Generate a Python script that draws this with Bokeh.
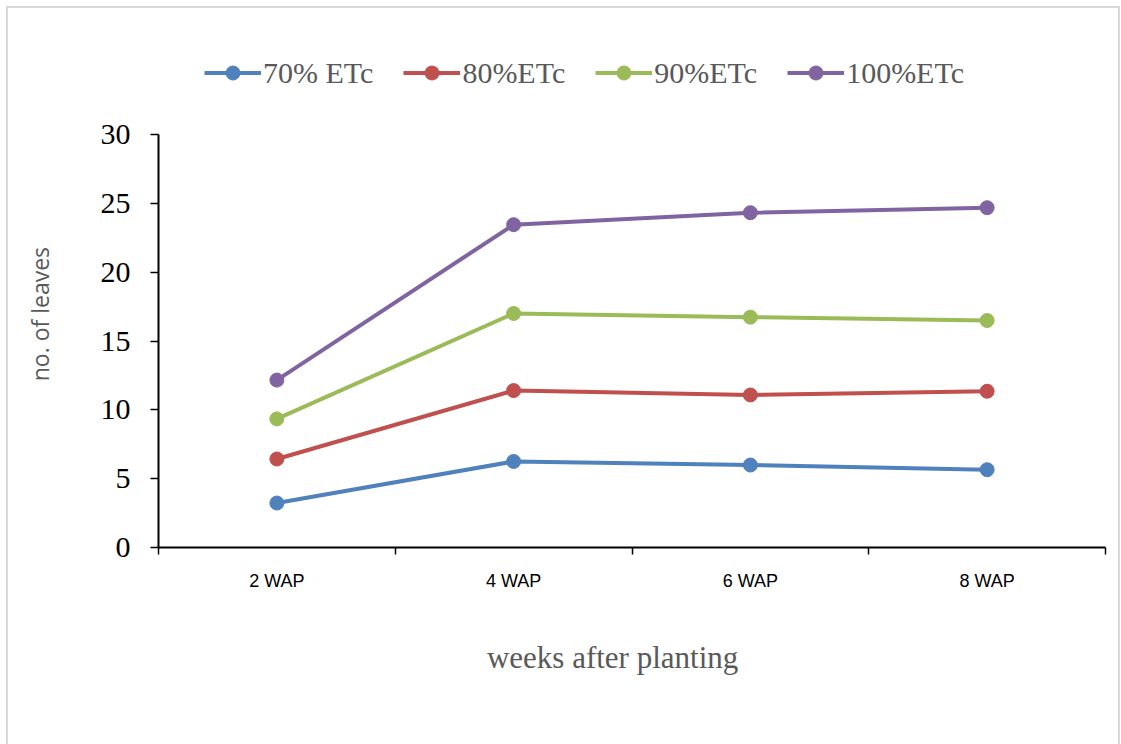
from bokeh.plotting import figure
from bokeh.layouts import column
from bokeh.models import Range1d, FixedTicker, Legend, LegendItem
from bokeh.embed import file_html
from bokeh.resources import INLINE

# Number of leaves per irrigation level, weeks after planting
weeks = ["2 WAP", "4 WAP", "6 WAP", "8 WAP"]
etc_70 = [3.23, 6.25, 5.99, 5.65]
etc_80 = [6.43, 11.40, 11.08, 11.35]
etc_90 = [9.34, 17.00, 16.73, 16.49]
etc_100 = [12.16, 23.45, 24.32, 24.68]

series_names = ["70% ETc", "80%ETc", "90%ETc", "100%ETc"]
series_values = [etc_70, etc_80, etc_90, etc_100]
series_colors = ["#4F81BD", "#C0504D", "#9BBB59", "#8064A2"]

serif = "Liberation Serif"
label_gray = "#595959"
line_w = 4
dot = 14

# each week sits in the middle of its band on a numeric axis
xs = [i + 0.5 for i in range(len(weeks))]

# ---- legend strip above the chart ----
# the series are drawn again here only so the legend has glyphs to show;
# the strip's y range keeps the actual lines out of view
key = figure(width=1110, height=106, output_backend="svg", toolbar_location=None,
             x_axis_location=None, y_axis_location=None,
             x_range=Range1d(0, len(weeks)), y_range=Range1d(-2, -1), min_border=0)
key.outline_line_color = None
key.xgrid.visible = False
key.ygrid.visible = False

items = []
for name, vals, color in zip(series_names, series_values, series_colors):
    ln = key.line(xs, vals, line_color=color, line_width=line_w)
    pt = key.scatter(xs, vals, marker="circle", size=dot, fill_color=color, line_color=color)
    items.append(LegendItem(label=name, renderers=[ln, pt]))

legend = Legend(items=items, orientation="horizontal", location=(46, 24),
                glyph_width=57, glyph_height=35, label_standoff=2, spacing=30,
                padding=0, margin=0, border_line_color=None,
                background_fill_alpha=0,
                label_text_font=serif, label_text_font_size="30px",
                label_text_color=label_gray)
key.add_layout(legend, "center")

# ---- main chart ----
p = figure(width=1110, height=630, output_backend="svg", toolbar_location=None,
           x_range=Range1d(0, len(weeks)), y_range=Range1d(0, 30),
           min_border_left=150, min_border_right=13,
           min_border_top=20, min_border_bottom=197)
p.outline_line_color = None
p.xgrid.visible = False
p.ygrid.visible = False

# x axis: labels at band centres, tick marks at band boundaries
p.xaxis.ticker = FixedTicker(ticks=xs, minor_ticks=list(range(len(weeks) + 1)))
p.xaxis.major_label_overrides = {x: w for x, w in zip(xs, weeks)}
p.xaxis.major_tick_out = 0
p.xaxis.major_tick_in = 0
p.xaxis.minor_tick_out = 7
p.xaxis.minor_tick_in = 0
p.xaxis.minor_tick_line_color = "black"
p.xaxis.minor_tick_line_width = 1.5
p.xaxis.axis_line_color = "black"
p.xaxis.axis_line_width = 2
p.xaxis.major_label_text_font = "Liberation Sans"
p.xaxis.major_label_text_font_size = "18px"
p.xaxis.major_label_text_color = "black"
p.xaxis.major_label_standoff = 16
# trailing no-break spaces nudge the title slightly left of the axis centre
p.xaxis.axis_label = "weeks after planting" + "\u00a0" * 5
p.xaxis.axis_label_text_font = serif
p.xaxis.axis_label_text_font_style = "normal"
p.xaxis.axis_label_text_font_size = "31px"
p.xaxis.axis_label_text_color = label_gray
p.xaxis.axis_label_standoff = 46

# y axis
p.yaxis.ticker = FixedTicker(ticks=[0, 5, 10, 15, 20, 25, 30])
p.yaxis.major_tick_out = 8
p.yaxis.major_tick_in = 0
p.yaxis.minor_tick_line_color = None
p.yaxis.major_tick_line_width = 1.5
p.yaxis.axis_line_color = "black"
p.yaxis.axis_line_width = 2
p.yaxis.major_label_text_font = serif
p.yaxis.major_label_text_font_size = "30px"
p.yaxis.major_label_text_color = "black"
p.yaxis.major_label_standoff = 20
# leading no-break spaces lift the title a little above the axis centre
p.yaxis.axis_label = "\u00a0" * 9 + "no. of leaves"
p.yaxis.axis_label_text_font = "Open Sans"
p.yaxis.axis_label_text_font_style = "normal"
p.yaxis.axis_label_text_font_size = "23px"
p.yaxis.axis_label_text_color = label_gray
p.yaxis.axis_label_standoff = 42

for vals, color in zip(series_values, series_colors):
    p.line(xs, vals, line_color=color, line_width=line_w)
    p.scatter(xs, vals, marker="circle", size=dot, fill_color=color, line_color=color)

chart = column(key, p, spacing=0, margin=(8, 0, 0, 8))
# thin light frame around the whole chart
chart.styles = {"outline": "2px solid #d9d9d9"}

open("out.html", "w").write(file_html(chart, INLINE))
